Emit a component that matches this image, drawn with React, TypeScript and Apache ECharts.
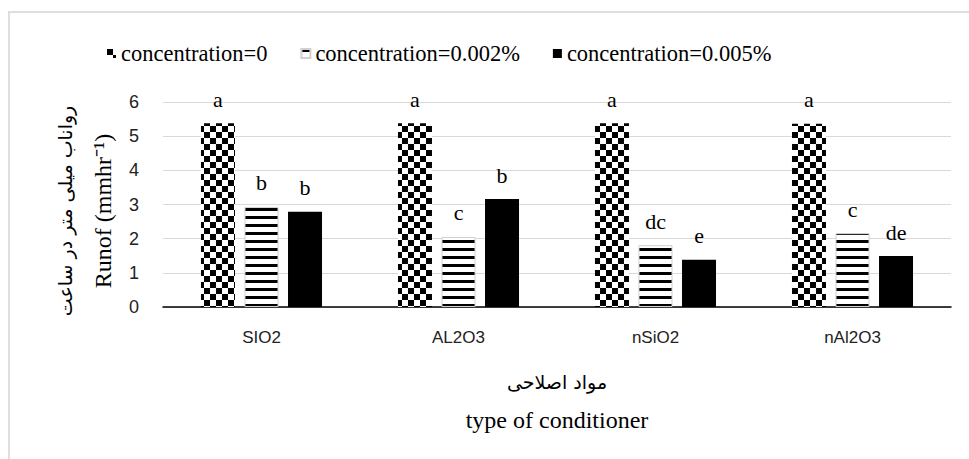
import React, { useEffect, useRef } from "react";
import * as echarts from "echarts";

const categories = ["SIO2", "AL2O3", "nSiO2", "nAl2O3"];
const seriesNames = ["concentration=0", "concentration=0.002%", "concentration=0.005%"];
const conc0 = [5.38, 5.38, 5.38, 5.36];
const conc002 = [2.93, 2.05, 1.81, 2.16];
const conc005 = [2.79, 3.16, 1.38, 1.49];
const letters0 = ["a", "a", "a", "a"];
const letters002 = ["b", "c", "dc", "c"];
const letters005 = ["b", "b", "e", "de"];
const yTicks = { min: 0, max: 6, interval: 1 };

function checkerCanvas() {
  const c = document.createElement("canvas");
  c.width = 12;
  c.height = 12;
  const ctx = c.getContext("2d")!;
  ctx.fillStyle = "#fff";
  ctx.fillRect(0, 0, 12, 12);
  ctx.fillStyle = "#000";
  ctx.fillRect(0, 0, 6, 6);
  ctx.fillRect(6, 6, 6, 6);
  return c;
}

function stripeCanvas() {
  const c = document.createElement("canvas");
  c.width = 8;
  c.height = 8;
  const ctx = c.getContext("2d")!;
  ctx.fillStyle = "#fff";
  ctx.fillRect(0, 0, 8, 8);
  ctx.fillStyle = "#000";
  ctx.fillRect(0, 0, 8, 3);
  return c;
}

export default function App() {
  const ref = useRef<HTMLDivElement>(null);
  useEffect(() => {
    if (!ref.current) return;
    const chart = echarts.init(ref.current, null, { renderer: "svg" });
    const serif = "Liberation Serif";
    const letterSets = [letters0, letters002, letters005];
    const labelCfg = (si: number) => ({
      show: true,
      position: "top" as const,
      distance: 13,
      fontFamily: serif,
      fontSize: 22,
      lineHeight: 22,
      color: "#000",
      formatter: (p: any) => letterSets[si][p.dataIndex],
    });
    const patterns = [
      { image: checkerCanvas(), repeat: "repeat" },
      { image: stripeCanvas(), repeat: "repeat" },
      "#000",
    ];
    const values = [conc0, conc002, conc005];
    chart.setOption({
      animation: false,
      backgroundColor: "#fff",
      legend: {
        left: 102,
        top: 37,
        itemWidth: 9,
        itemHeight: 9,
        itemGap: 33,
        icon: "rect",
        textStyle: { fontFamily: serif, fontSize: 22.5, color: "#000" },
        data: seriesNames,
      },
      grid: { left: 163, right: 18, top: 102, bottom: 152 },
      xAxis: {
        type: "category",
        data: categories,
        axisLine: { lineStyle: { color: "#000", width: 1.5 } },
        axisTick: { show: false },
        axisLabel: {
          margin: 22,
          fontFamily: "Liberation Sans",
          fontSize: 17,
          color: "#222",
        },
      },
      yAxis: {
        type: "value",
        min: yTicks.min,
        max: yTicks.max,
        interval: yTicks.interval,
        axisLine: { show: false },
        axisTick: { show: false },
        splitLine: { lineStyle: { color: "#d9d9d9", width: 1 } },
        axisLabel: {
          margin: 24,
          fontFamily: "Liberation Sans",
          fontSize: 18,
          color: "#222",
        },
      },
      series: seriesNames.map((name, i) => ({
        name,
        type: "bar",
        data: values[i],
        barWidth: 34,
        barGap: "28%",
        itemStyle:
          i === 1
            ? { color: patterns[i], borderColor: "#d0d0d0", borderWidth: 1 }
            : { color: patterns[i] },
        label: labelCfg(i),
      })),
      graphic: [
        {
          type: "rect",
          shape: { x: 9, y: 12, width: 1000, height: 500 },
          style: { fill: "none", stroke: "#dedede", lineWidth: 2 },
          silent: true,
        },
        {
          type: "text",
          x: 103,
          y: 211,
          rotation: Math.PI / 2,
          style: {
            text: "Runof (mmhr⁻¹)",
            fontFamily: serif,
            fontSize: 24,
            fill: "#000",
            align: "center",
            verticalAlign: "middle",
          },
        },
        {
          type: "text",
          x: 65,
          y: 211,
          rotation: Math.PI / 2,
          style: {
            text: "رواناب میلی متر در ساعت",
            fontFamily: "DejaVu Sans",
            fontSize: 19,
            fill: "#000",
            align: "center",
            verticalAlign: "middle",
          },
        },
        {
          type: "text",
          x: 557,
          y: 382,
          style: {
            text: "مواد اصلاحی",
            fontFamily: "DejaVu Sans",
            fontSize: 19,
            fill: "#000",
            align: "center",
            verticalAlign: "middle",
          },
        },
        {
          type: "text",
          x: 557,
          y: 420,
          style: {
            text: "type of conditioner",
            fontFamily: serif,
            fontSize: 24,
            fill: "#000",
            align: "center",
            verticalAlign: "middle",
          },
        },
      ],
    });
    return () => chart.dispose();
  }, []);
  return (
    <div
      ref={ref}
      style={{ position: "fixed", left: 0, top: 0, width: 969, height: 459 }}
    />
  );
}
